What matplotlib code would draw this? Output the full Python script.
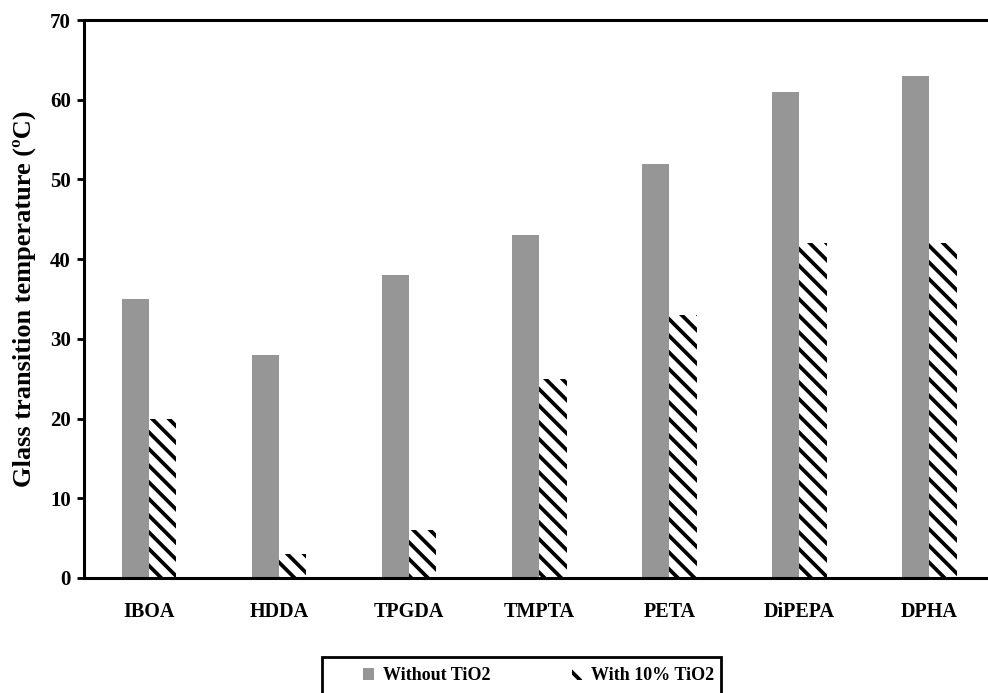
import matplotlib.pyplot as plt
from matplotlib.patches import Rectangle
import numpy as np

plt.rcParams['font.family'] = 'Liberation Serif'
plt.rcParams['font.weight'] = 'bold'
plt.rcParams['hatch.linewidth'] = 2.7

monomers = ['IBOA', 'HDDA', 'TPGDA', 'TMPTA', 'PETA', 'DiPEPA', 'DPHA']
tg_without = [35, 28, 38, 43, 52, 61, 63]
tg_with = [20, 3, 6, 25, 33, 42, 42]

x = np.arange(len(monomers))
w = 0.21

fig = plt.figure(figsize=(9.88, 6.93), dpi=100)
ax = fig.add_axes([0.085, 0.166, 0.915, 0.805])

ax.bar(x - w / 2, tg_without, w, color='#969696', label='Without TiO2')
ax.bar(x + w / 2, tg_with, w, color='white', edgecolor='black', linewidth=0,
       hatch='\\\\', label='With 10% TiO2')

ax.set_xlim(-0.5, 6.45)
ax.set_ylim(0, 70)
ax.set_yticks(range(0, 71, 10))
ax.set_xticks(x)
ax.set_xticklabels(monomers, fontsize=14.5, fontweight='bold')
ax.tick_params(axis='x', length=0, pad=17)
ax.tick_params(axis='y', length=5, width=2, direction='out', labelsize=15, pad=4.5)
for lab in ax.get_yticklabels():
    lab.set_fontweight('bold')

ax.set_ylabel('Glass transition temperature (ºC)', fontsize=19, fontweight='bold', labelpad=10)

for s in ['left', 'bottom', 'top']:
    ax.spines[s].set_linewidth(2.2)
ax.spines['right'].set_visible(False)

# legend box runs off the bottom of the figure
fig.patches.append(Rectangle((322 / 988, -0.05), (721 - 322) / 988, 0.05 + (693 - 657) / 693,
                             transform=fig.transFigure, fill=False, edgecolor='black',
                             linewidth=2, figure=fig))
leg = fig.legend(loc='center left', bbox_to_anchor=(363 / 988, 1 - 676 / 693), ncol=2,
                 fontsize=13, frameon=False,
                 handlelength=0.6, handleheight=0.6, handletextpad=0.5,
                 columnspacing=4.5, borderpad=0, borderaxespad=0)
for t in leg.get_texts():
    t.set_fontweight('bold')

fig.savefig('out.png', dpi=100)
